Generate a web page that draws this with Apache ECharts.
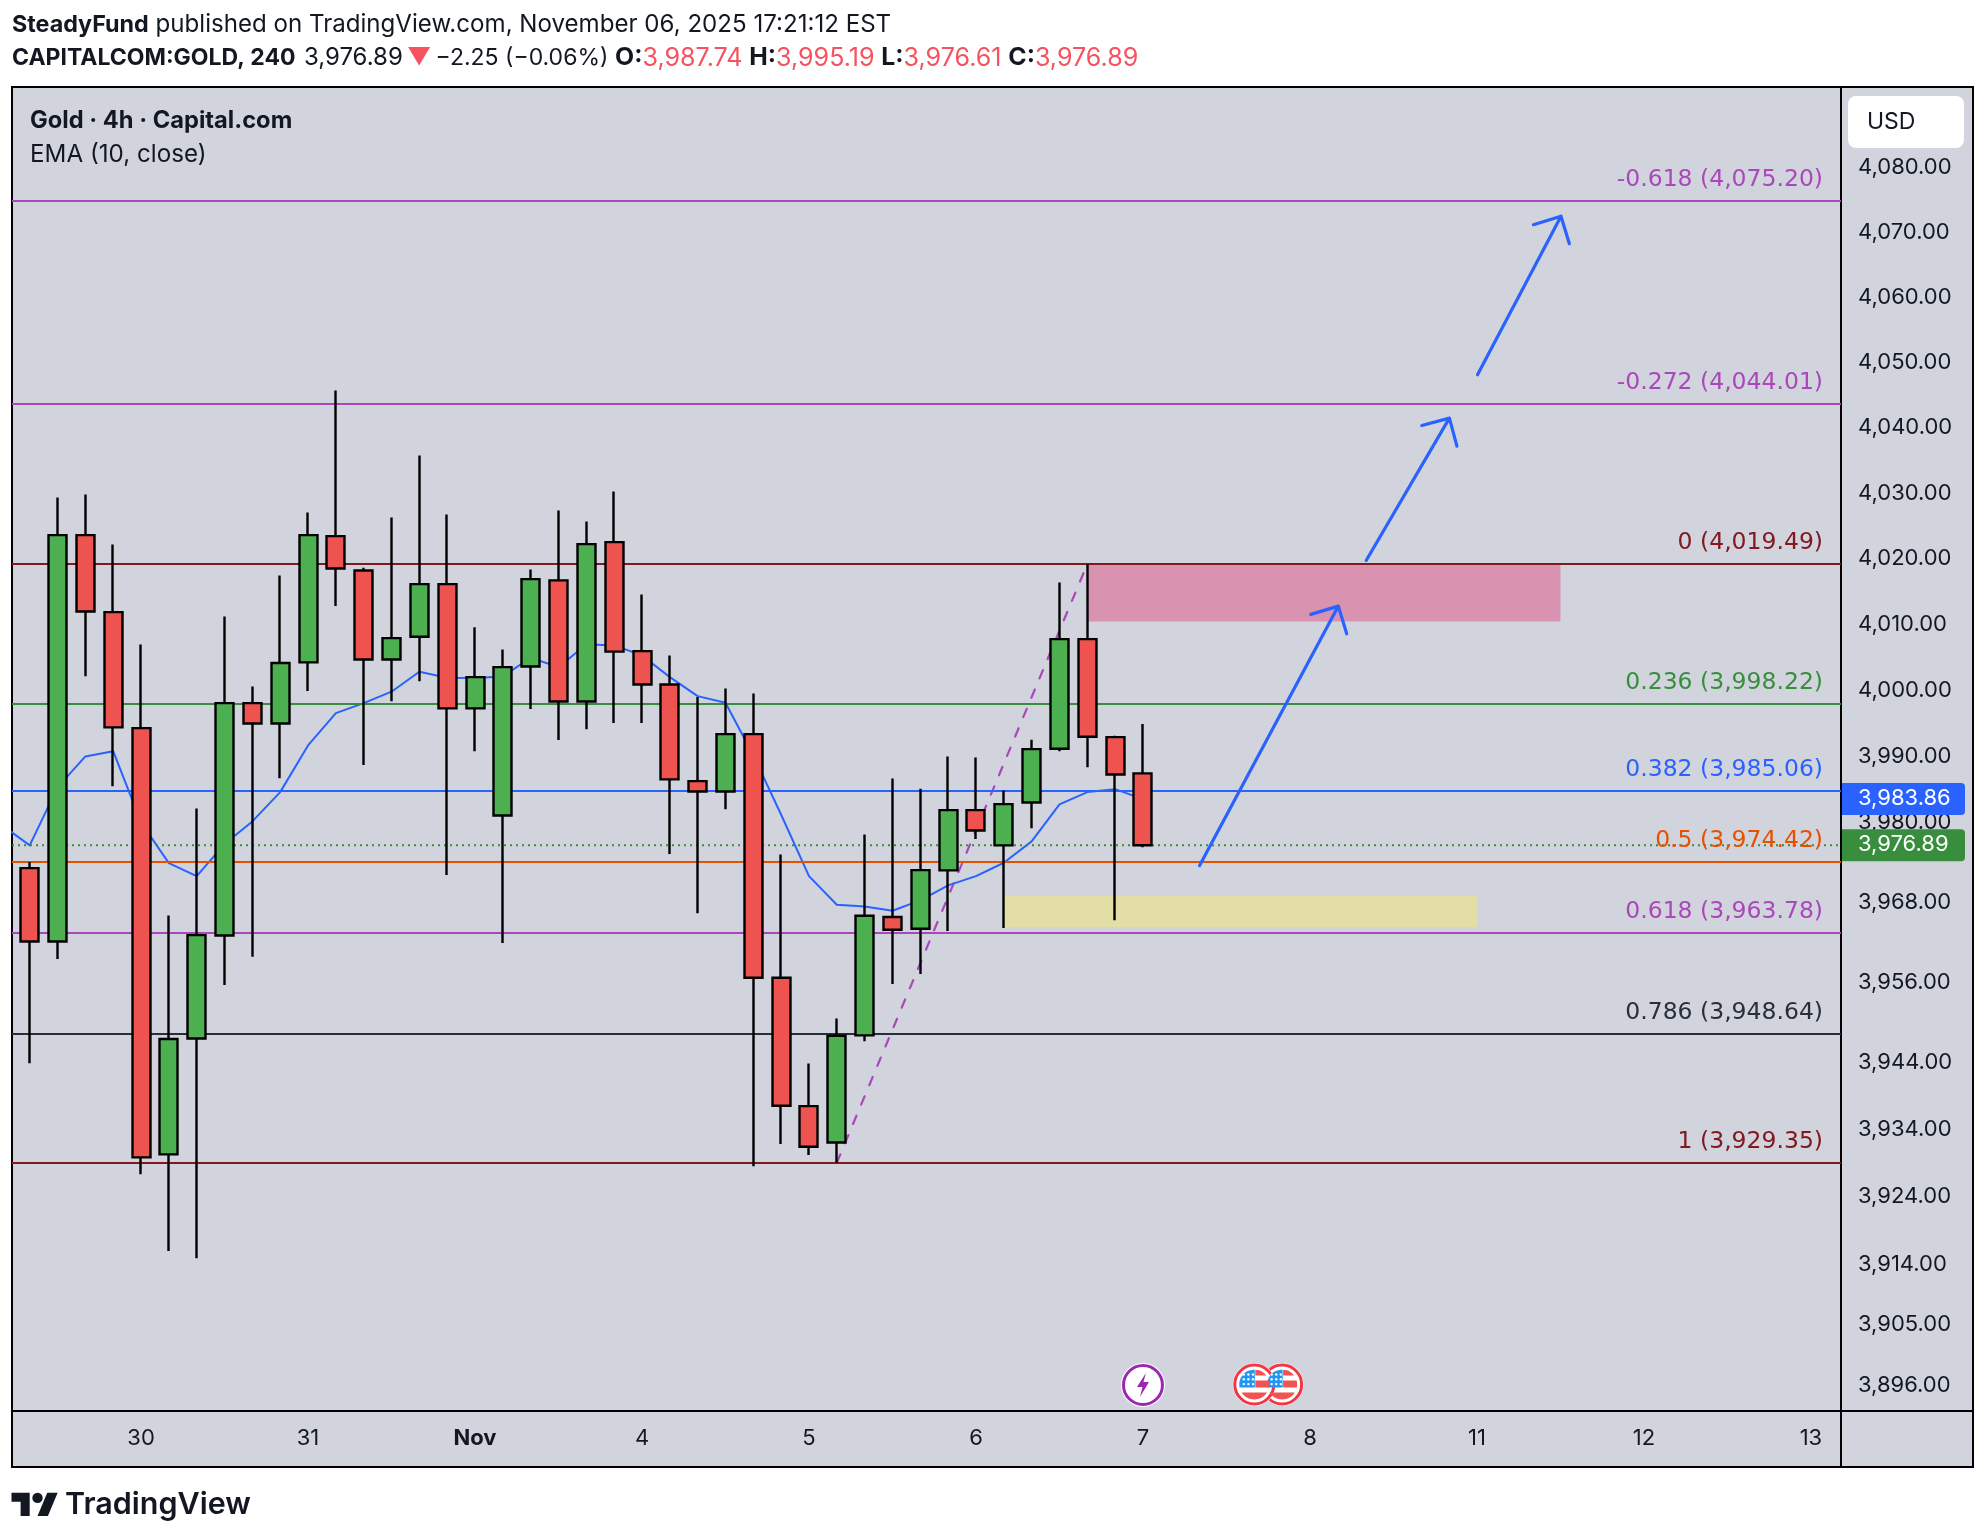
<!DOCTYPE html>
<html><head><meta charset="utf-8">
<style>html,body{margin:0;padding:0;background:#fff}#c{width:1986px;height:1540px}</style>
<script src="https://cdn.jsdelivr.net/npm/echarts@6/dist/echarts.min.js"></script>
</head><body><div id="c"></div>
<script>
const opens  = [3973.45,3962.43,4023.90,4012.18,3994.58,3930.59,3947.89,3963.33,3998.37,3995.29,4004.54,4023.75,4018.52,4004.99,4008.44,4016.43,3997.57,3981.39,4003.93,4017.00,3998.62,4022.83,4006.26,4001.20,3986.57,3985.01,3993.68,3956.99,3937.78,3932.37,3948.35,3966.09,3964.33,3973.11,3982.19,3976.87,3983.35,3991.46,4008.08,3993.22,3987.74];
const closes = [3962.43,4023.90,4012.28,3994.69,3930.14,3947.80,3963.38,3998.37,3995.29,4004.44,4023.90,4018.82,4004.99,4008.23,4016.43,3997.57,4002.31,4003.82,4017.20,3998.62,4022.52,4006.17,4001.20,3986.83,3985.01,3993.68,3956.99,3937.84,3931.73,3948.30,3966.29,3964.18,3973.15,3982.19,3979.13,3983.10,3991.40,4008.08,3993.28,3987.58,3976.89];
const highs  = [3974.36,4029.65,4030.11,4022.48,4007.27,3966.33,3982.45,4011.53,4000.90,4017.76,4027.36,4046.02,4018.93,4026.59,4036.06,4027.06,4009.86,4006.51,4018.67,4027.67,4025.99,4030.57,4014.87,4005.60,3999.28,4000.60,3999.84,3975.51,3944.16,3950.89,3978.53,3986.98,3985.42,3990.30,3990.15,3985.17,3992.83,4016.69,4019.49,3993.43,3995.19];
const lows   = [3944.20,3959.78,4002.46,3985.81,3927.65,3916.22,3915.17,3955.88,3960.14,3987.02,4000.19,4013.09,3988.99,3998.67,4001.70,3972.40,3991.10,3962.18,3997.46,3992.77,3994.43,3995.34,3995.34,3975.56,3966.68,3982.34,3928.84,3932.12,3930.48,3929.35,3947.49,3956.03,3957.53,3963.98,3977.82,3964.43,3979.47,3991.10,3988.68,3965.63,3976.61];
const emaValues = [3979.94,3976.87,3985.62,3990.30,3991.10,3980.33,3974.20,3972.25,3977.07,3980.49,3984.91,3991.97,3996.86,3998.37,4000.10,4003.13,4002.22,4002.16,4002.42,4005.25,4003.82,4007.31,4007.12,4005.60,4002.31,3999.43,3998.43,3990.45,3981.50,3972.25,3967.95,3967.69,3967.04,3968.59,3970.85,3972.25,3974.26,3977.48,3983.05,3984.91,3985.36,3983.86];

const dayTickIndex = [4,10,16,22,28,34,40,46,52,58,64];
const dayTickLabels = ['30','31','Nov','4','5','6','7','8','11','12','13'];
const priceTicks = [4080,4070,4060,4050,4040,4030,4020,4010,4000,3990,3980,3968,3956,3944,3934,3924,3914,3905,3896];
const priceTickLabels = ['4,080.00','4,070.00','4,060.00','4,050.00','4,040.00','4,030.00','4,020.00','4,010.00','4,000.00','3,990.00','3,980.00','3,968.00','3,956.00','3,944.00','3,934.00','3,924.00','3,914.00','3,905.00','3,896.00'];

const fibPrices = [4075.20,4044.01,4019.49,3998.22,3985.06,3974.42,3963.78,3948.64,3929.35];
const fibLabels = ['-0.618 (4,075.20)','-0.272 (4,044.01)','0 (4,019.49)','0.236 (3,998.22)','0.382 (3,985.06)','0.5 (3,974.42)','0.618 (3,963.78)','0.786 (3,948.64)','1 (3,929.35)'];
const fibColors = ['#AB47BC','#AB47BC','#801922','#388E3C','#2962FF','#E65100','#AB47BC','#2A2E39','#801922'];

const trendLine = [[29,3929.35],[38,4019.49]];
const pinkZone = [[38,4019.49],[55,4010.76]];
const yellowZone = [[35,3969.34],[52,3964.58]];
const arrow1 = [[42.03,3973.82],[47.02,4013.09],[46.03,4011.83],[47.02,4013.09],[47.32,4008.89]];
const arrow2 = [[48.02,4020.04],[51.01,4041.78],[50.02,4040.65],[51.01,4041.78],[51.28,4037.49]];
const arrow3 = [[52.02,4048.43],[55.02,4072.82],[54.03,4071.50],[55.02,4072.82],[55.32,4068.57]];
const lastPrice = 3976.89, lastPriceText = '3,976.89';
const emaLast = 3983.86, emaLastText = '3,983.86';
const xMin = -0.636, xMax = 65.08;
const lightningIndex = 40;
const flagIndexes = [45,44];

const FONT = 'Inter';
const INK = '#131722';
const RED = '#EF5350', GREEN = '#4CAF50';

const chart = echarts.init(document.getElementById('c'), null, {renderer:'canvas', width:1986, height:1540});
const candles = opens.map((o,i)=>[i,o,closes[i],lows[i],highs[i]]);
const ema = emaValues.map((v,i)=>[i-1,v]);

const lineSeries = (data,color,width,type,z,extra)=>Object.assign({
  type:'line',data,showSymbol:false,symbol:'none',silent:true,z,
  lineStyle:{color,width,type,cap:'round',join:'round'}
},extra||{});

chart.setOption({
  animation:false,
  backgroundColor:'#ffffff',
  grid:{left:12,top:87,width:1829,height:1324,show:false,containLabel:false},
  xAxis:{type:'value',min:xMin,max:xMax,
    splitLine:{show:false},
    axisLine:{show:true,onZero:false,lineStyle:{color:'#000',width:2}},
    axisTick:{show:false},
    axisLabel:{customValues:dayTickIndex,margin:16,color:INK,fontFamily:FONT,fontSize:22,
      formatter:v=>{const s=dayTickLabels[dayTickIndex.indexOf(Math.round(v))];return s==='Nov'?'{b|Nov}':s;},
      rich:{b:{fontWeight:700,fontFamily:FONT,fontSize:22,color:INK}}}
  },
  yAxis:{type:'log',min:3892.56,max:4092.8,position:'right',
    splitLine:{show:false},minorSplitLine:{show:false},
    axisLine:{show:true,onZero:false,lineStyle:{color:'#000',width:2}},
    axisTick:{show:false},
    axisLabel:{customValues:priceTicks,margin:17,align:'left',color:INK,fontFamily:FONT,fontSize:22,
      formatter:v=>{const s=priceTickLabels[priceTicks.indexOf(Math.round(v))];return s?'{a|'+s+'}':'';},
      rich:{a:{fontFamily:FONT,fontSize:22,color:INK,padding:[0,0,4,0]}}}
  },
  series:[
    {type:'line',data:[],silent:true,z:1,
      markArea:{silent:true,data:[
        [{xAxis:pinkZone[0][0],yAxis:pinkZone[0][1],itemStyle:{color:'#D992B0'}},{xAxis:pinkZone[1][0],yAxis:pinkZone[1][1]}],
        [{xAxis:yellowZone[0][0],yAxis:yellowZone[0][1],itemStyle:{color:'#E2DEA6'}},{xAxis:yellowZone[1][0],yAxis:yellowZone[1][1]}]
      ]}},
    {type:'line',data:[],silent:true,z:2,
      markLine:{silent:true,symbol:'none',animation:false,precision:4,
        data:fibPrices.map((p,i)=>({yAxis:p,
          lineStyle:{color:fibColors[i],width:2,type:'solid'},
          label:{show:true,formatter:fibLabels[i],position:'insideEndTop',distance:[18,9],color:fibColors[i],fontFamily:'DejaVu Sans',fontSize:23.5}
        }))}},
    lineSeries(trendLine,'#AB47BC',2.2,[9,12],3),
    lineSeries(ema,'#2962FF',2,'solid',3,{clip:true}),
    lineSeries([[xMin,lastPrice],[xMax,lastPrice]],'#388E3C',2,[2,4],4,{lineStyle:{color:'#388E3C',width:2,type:[2,4],cap:'butt'}}),
    {type:'candlestick',data:candles,barWidth:18.5,z:5,silent:true,
      itemStyle:{color:GREEN,color0:RED,borderColor:'#000',borderColor0:'#000',borderWidth:2.4}},
    lineSeries(arrow1,'#2962FF',3.2,'solid',6),
    lineSeries(arrow2,'#2962FF',3.2,'solid',6),
    lineSeries(arrow3,'#2962FF',3.2,'solid',6)
  ]
});

const py = p => chart.convertToPixel({xAxisIndex:0,yAxisIndex:0},[0,p])[1];
const px = i => chart.convertToPixel({xAxisIndex:0,yAxisIndex:0},[i,lastPrice])[0];

function tag(price,text,color){
  const y = py(price);
  return {type:'group',z:50,children:[
    {type:'rect',z:50,shape:{x:1842,y:y-16,width:123,height:32,r:[0,4,4,0]},style:{fill:color}},
    {type:'text',z:51,style:{x:1858,y:y-1,text,fill:'#fff',font:'22px '+FONT,textVerticalAlign:'middle'}}
  ]};
}
// part of a disc of radius r inside a box, as a polygon
function discPart(r,x0,x1,y0,y1){
  const L=[],R=[];
  for(let k=0;k<=14;k++){
    const y=y0+(y1-y0)*k/14, w=Math.sqrt(Math.max(0,r*r-y*y));
    L.push([Math.max(x0,-w),y]); R.push([Math.min(x1,w),y]);
  }
  return R.concat(L.reverse());
}
function flag(cx){
  const stars = [];
  for(let r=0;r<3;r++) for(let c=0;c<3;c++){
    stars.push({type:'circle',z:42,shape:{cx:-10.5+c*4.6,cy:-10+r*4.8,r:1.2},style:{fill:'#fff'}});
  }
  const part=(pts,fill)=>({type:'polygon',z:41,shape:{points:pts},style:{fill}});
  return {type:'group',x:cx,y:1384.5,z:40,children:[
    {type:'circle',z:40,shape:{cx:0,cy:0,r:21.5},style:{fill:'#fff'}},
    {type:'circle',z:40,shape:{cx:0,cy:0,r:19.5},style:{fill:'#fff',stroke:'#F23645',lineWidth:3}},
    part(discPart(15,-15,0.5,-15,3),'#2196F3'),
    part(discPart(15,1,15,-15,-9),'#F05350'),
    part(discPart(15,1,15,-4,3),'#F05350'),
    part(discPart(15,-15,15,8,15),'#F05350')
  ].concat(stars)};
}
const LOGO_X=11.5, LOGO_Y=1487.5, LOGO_S=1.3;
const logoPts = a => a.map(p=>[LOGO_X+p[0]*LOGO_S,LOGO_Y+p[1]*LOGO_S]);
const lx = px(lightningIndex);
const bRich = {fontWeight:700,fontSize:23.3,fontFamily:FONT,fill:INK};
const gRich = {fontSize:15,fontFamily:FONT};
chart.setOption({graphic:{elements:[
  {type:'rect',z:-10,shape:{x:12,y:87,width:1961,height:1380},style:{fill:'#D1D4DC',stroke:'#000',lineWidth:2}},
  {type:'line',z:10,shape:{x1:1841,y1:1411,x2:1973,y2:1411},style:{stroke:'#000',lineWidth:2}},
  {type:'line',z:10,shape:{x1:1841,y1:1411,x2:1841,y2:1467},style:{stroke:'#000',lineWidth:2}},
  {type:'text',style:{x:12,y:25,textVerticalAlign:'middle',font:'24.1px '+FONT,fill:INK,
    text:'{b|SteadyFund} published on TradingView.com, November 06, 2025 17:21:12 EST',
    rich:{b:bRich}}},
  {type:'text',style:{x:12,y:58,textVerticalAlign:'middle',font:'24px '+FONT,fill:INK,
    text:'{b2|CAPITALCOM:GOLD, 240}{g|  }3,976.89{g| }{r0|▼}{g| }{s|−2.25 (−0.06%)} {l|O:}{r|3,987.74} {l|H:}{r|3,995.19} {l|L:}{r|3,976.61} {l|C:}{r|3,976.89}',
    rich:{b2:{fontWeight:700,fontSize:23,fontFamily:FONT,fill:INK},g:gRich,
      l:{fontWeight:700,fontSize:24.8,fontFamily:FONT,fill:INK},
      s:{fontSize:23,fontFamily:FONT,fill:INK},
      r0:{fontSize:24,fontFamily:FONT,fill:'#F7525F'},
      r:{fontSize:25.1,fontFamily:FONT,fill:'#F7525F'}}}},
  {type:'text',style:{x:30,y:121,textVerticalAlign:'middle',font:'700 23.7px '+FONT,fill:INK,text:'Gold · 4h · Capital.com'}},
  {type:'text',style:{x:30,y:155,textVerticalAlign:'middle',font:'24.2px '+FONT,fill:INK,text:'EMA (10, close)'}},
  {type:'rect',z:30,shape:{x:1848,y:96,width:116,height:52,r:8},style:{fill:'#fff'}},
  {type:'text',z:31,style:{x:1867,y:122,textVerticalAlign:'middle',font:'23px '+FONT,fill:INK,text:'USD'}},
  tag(emaLast,emaLastText,'#2962FF'),
  tag(lastPrice,lastPriceText,'#388E3C'),
  {type:'group',x:lx,y:1385,z:40,children:[
    {type:'circle',z:40,shape:{cx:0,cy:0,r:22},style:{fill:'#fff'}},
    {type:'circle',z:40,shape:{cx:0,cy:0,r:19.5},style:{fill:'#fff',stroke:'#9C27B0',lineWidth:3}},
    {type:'polygon',z:41,shape:{points:[[3,-12],[-6,2],[-0.5,2],[-3,12],[6,-3],[0.5,-3]]},style:{fill:'#9C27B0'}}
  ]},
  flag(px(flagIndexes[0])),
  flag(px(flagIndexes[1])),
  {type:'polygon',shape:{points:logoPts([[14,22],[7,22],[7,11],[0,11],[0,4],[14,4]])},style:{fill:INK}},
  {type:'polygon',shape:{points:logoPts([[28,22],[20,22],[27.5,4],[35.5,4]])},style:{fill:INK}},
  {type:'circle',shape:{cx:LOGO_X+20*LOGO_S,cy:LOGO_Y+8*LOGO_S,r:4*LOGO_S},style:{fill:INK}},
  {type:'text',style:{x:65,y:1505,textVerticalAlign:'middle',font:'600 30.5px '+FONT,fill:INK,text:'TradingView'}}
]}});
</script></body></html>
